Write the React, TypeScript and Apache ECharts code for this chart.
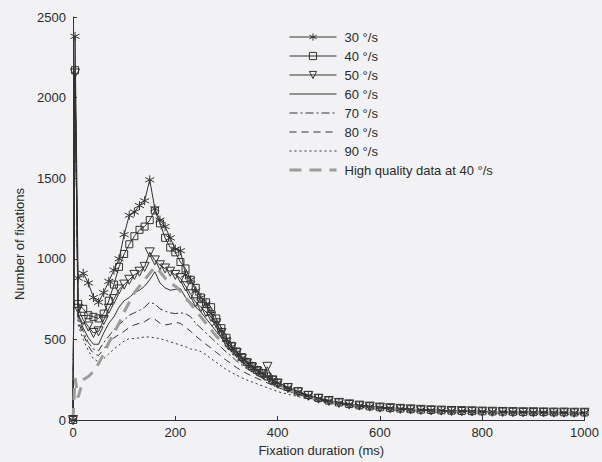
import React, { useEffect, useRef } from 'react';
import * as echarts from 'echarts';

// Fixation duration bins (ms)
const durations = [
  0, 4,
  10, 20, 30, 40, 50, 60, 70, 80, 90, 100,
  110, 120, 130, 140, 150, 160, 170, 180, 190, 200,
  210, 220, 230, 240, 250, 260, 270, 280, 290, 300,
  310, 320, 330, 340, 350, 360, 370, 380, 390, 400,
  420, 440, 460, 480, 500, 520, 540, 560, 580, 600,
  620, 640, 660, 680, 700, 720, 740, 760, 780, 800,
  820, 840, 860, 880, 900, 920, 940, 960, 980, 1000,
];

const s30 = [
  0, 2380,
  880, 910, 850, 760, 730, 790, 860, 930, 1000, 1150,
  1270, 1290, 1330, 1360, 1490, 1310, 1240, 1200, 1130, 1060,
  1050, 900, 870, 800, 760, 720, 660, 600, 550, 500,
  455, 420, 385, 360, 335, 310, 290, 270, 250, 230,
  200, 175, 152, 134, 120, 108, 98, 90, 84, 78,
  74, 70, 66, 63, 61, 59, 57, 55, 54, 53,
  52, 51, 50, 49, 48, 48, 47, 47, 46, 46,
];

const s40 = [
  0, 2170,
  720, 690, 650, 640, 630, 660, 740, 840, 950, 1030,
  1090, 1140, 1180, 1200, 1240, 1300, 1220, 1130, 1070, 1040,
  980, 940, 870, 820, 760, 730, 700, 630, 570, 510,
  460, 425, 390, 360, 335, 310, 290, 270, 250, 232,
  205, 178, 155, 136, 121, 109, 99, 91, 85, 79,
  75, 71, 67, 64, 62, 60, 58, 56, 55, 54,
  53, 52, 51, 50, 49, 49, 48, 48, 47, 47,
];

const s50 = [
  0, 2150,
  690, 620, 580, 540, 550, 620, 690, 750, 810, 840,
  870, 900, 920, 950, 1040, 990, 960, 940, 920, 900,
  880, 830, 780, 730, 700, 670, 640, 600, 540, 480,
  450, 415, 380, 350, 325, 300, 285, 330, 245, 225,
  198, 172, 150, 132, 118, 106, 97, 89, 83, 77,
  73, 69, 66, 63, 60, 58, 56, 55, 54, 52,
  51, 50, 49, 48, 48, 47, 46, 46, 45, 45,
];

const s60 = [
  0, 2140,
  650, 570, 510, 470, 470, 540, 600, 640, 700, 740,
  760, 790, 805, 830, 870, 920, 850, 820, 805, 810,
  815, 760, 730, 700, 670, 630, 590, 550, 510, 470,
  435, 400, 370, 345, 320, 298, 278, 258, 240, 220,
  195, 170, 148, 130, 116, 105, 96, 88, 82, 76,
  72, 68, 65, 62, 60, 58, 56, 54, 53, 52,
  51, 50, 49, 48, 47, 47, 46, 45, 45, 44,
];

const s70 = [
  0, 2130,
  630, 550, 480, 440, 430, 480, 520, 560, 590, 620,
  650, 665, 680, 700, 730, 720, 690, 675, 665, 660,
  665, 660, 640, 600, 570, 540, 510, 480, 450, 420,
  395, 365, 340, 318, 298, 280, 262, 245, 228, 212,
  188, 165, 144, 127, 113, 102, 93, 86, 80, 75,
  70, 67, 64, 61, 59, 57, 55, 53, 52, 51,
  50, 49, 48, 47, 46, 46, 45, 44, 44, 43,
];

const s80 = [
  0, 2120,
  610, 530, 460, 410, 400, 440, 480, 510, 530, 550,
  575, 590, 600, 610, 630, 625, 600, 590, 595, 605,
  600, 575, 550, 520, 495, 470, 445, 420, 395, 370,
  348, 325, 305, 288, 272, 258, 244, 230, 216, 202,
  180, 158, 139, 123, 110, 100, 91, 84, 78, 73,
  69, 66, 63, 60, 58, 56, 54, 53, 51, 50,
  49, 48, 47, 46, 46, 45, 44, 44, 43, 43,
];

const s90 = [
  0, 2110,
  590, 500, 430, 380, 360, 380, 410, 440, 465, 490,
  505, 505, 510, 515, 515, 510, 505, 495, 485, 475,
  465, 455, 440, 435, 425, 405, 380, 358, 335, 312,
  295, 278, 262, 248, 236, 224, 212, 200, 188, 176,
  160, 145, 131, 119, 108, 98, 90, 83, 77, 72,
  68, 64, 61, 58, 56, 54, 52, 51, 50, 49,
  48, 47, 46, 45, 44, 44, 43, 43, 42, 42,
];

const sHQ = [
  0, 260,
  140, 250, 270, 300, 350, 410, 480, 540, 600, 670,
  730, 790, 830, 870, 910, 950, 920, 880, 850, 830,
  800, 760, 720, 680, 640, 600, 560, 520, 490, 460,
  430, 400, 370, 345, 320, 298, 278, 258, 240, 222,
  192, 166, 144, 126, 112, 100, 91, 83, 77, 72,
  67, 63, 60, 57, 55, 53, 51, 50, 49, 48,
  47, 46, 45, 44, 43, 43, 42, 42, 41, 41,
];

const seriesNames = ['30 °/s', '40 °/s', '50 °/s', '60 °/s', '70 °/s', '80 °/s', '90 °/s', 'High quality data at 40 °/s'];
const yTicks = [0, 500, 1000, 1500, 2000, 2500];
const xTicks = [0, 200, 400, 600, 800, 1000];

const DARK = '#333333';
const TEXT = '#2a2a2a';
const FONT = 'Liberation Sans, Arial, Helvetica, sans-serif';
const STAR = 'path://M5,0L5,10M0.67,2.5L9.33,7.5M0.67,7.5L9.33,2.5';

export default function App() {
  const ref = useRef<HTMLDivElement>(null);
  useEffect(() => {
    if (!ref.current) return;
    const chart = echarts.init(ref.current, undefined, { renderer: 'svg' });
    const values = [s30, s40, s50, s60, s70, s80, s90, sHQ];
    const styles: any[] = [
      { symbol: STAR, size: 9, rot: 0, type: 'solid' },
      { symbol: 'rect', size: 7, rot: 0, type: 'solid' },
      { symbol: 'triangle', size: 9, rot: 180, type: 'solid' },
      { symbol: 'none', size: 0, rot: 0, type: 'solid' },
      { symbol: 'none', size: 0, rot: 0, type: [8, 3, 2, 3] },
      { symbol: 'none', size: 0, rot: 0, type: [7, 5] },
      { symbol: 'none', size: 0, rot: 0, type: [2, 3] },
      { symbol: 'none', size: 0, rot: 0, type: [12, 8], color: '#9c9c9c', width: 3 },
    ];
    const series = values.map((vals, k) => {
      const st = styles[k];
      const hasSym = st.symbol !== 'none';
      return {
        type: 'line',
        name: seriesNames[k],
        data: durations.map((d, i) => [d, vals[i]]),
        symbol: st.symbol,
        symbolSize: st.size,
        symbolRotate: st.rot,
        showSymbol: hasSym,
        silent: true,
        lineStyle: { color: st.color || DARK, width: st.width || 1, type: st.type },
        itemStyle: {
          color: 'rgba(0,0,0,0)',
          borderColor: hasSym ? DARK : 'rgba(0,0,0,0)',
          borderWidth: hasSym ? 1 : 0,
        },
      };
    });
    chart.setOption({
      animation: false,
      backgroundColor: '#f2f2f4',
      textStyle: { fontFamily: FONT },
      grid: { left: 73, right: 14, top: 17, bottom: 42, containLabel: false },
      legend: {
        orient: 'vertical',
        left: 283,
        top: 25,
        itemWidth: 47,
        itemHeight: 9,
        itemGap: 5,
        selectedMode: false,
        itemStyle: { borderWidth: 1 },
        textStyle: { fontSize: 13, color: TEXT, fontFamily: FONT, lineHeight: 14, padding: [0, 0, 0, 3] },
        data: seriesNames.map((n, k) =>
          k < 3
            ? { name: n, lineStyle: { width: 1 } }
            : {
                name: n,
                lineStyle: { width: k === 7 ? 3 : 1 },
                itemStyle: { color: 'rgba(0,0,0,0)', borderWidth: 0, borderColor: 'rgba(0,0,0,0)' },
              }
        ),
      },
      xAxis: {
        type: 'value',
        min: xTicks[0],
        max: xTicks[xTicks.length - 1],
        interval: 200,
        name: 'Fixation duration (ms)',
        nameLocation: 'middle',
        nameGap: 23,
        nameTextStyle: { fontSize: 13, color: TEXT, fontFamily: FONT, padding: [0, 15, 0, 0] },
        axisLine: { show: true, lineStyle: { color: DARK, width: 1 } },
        axisTick: { show: true, inside: true, length: 4, lineStyle: { color: DARK } },
        axisLabel: { fontSize: 13, color: TEXT, margin: 6, fontFamily: FONT, formatter: (v: number) => String(v) },
        splitLine: { show: false },
      },
      yAxis: {
        type: 'value',
        min: yTicks[0],
        max: yTicks[yTicks.length - 1],
        interval: 500,
        name: 'Number of fixations',
        nameLocation: 'middle',
        nameGap: 47,
        nameTextStyle: { fontSize: 13, color: TEXT, fontFamily: FONT, padding: [0, 51, 0, 0] },
        axisLine: { show: true, lineStyle: { color: DARK, width: 1 } },
        axisTick: { show: true, inside: true, length: 4, lineStyle: { color: DARK } },
        axisLabel: { fontSize: 13, color: TEXT, margin: 7, fontFamily: FONT, formatter: (v: number) => String(v) },
        splitLine: { show: false },
      },
      series,
    });
    return () => chart.dispose();
  }, []);
  return (
    <div
      ref={ref}
      style={{ position: 'absolute', left: 0, top: 0, width: 602, height: 462 }}
    />
  );
}
